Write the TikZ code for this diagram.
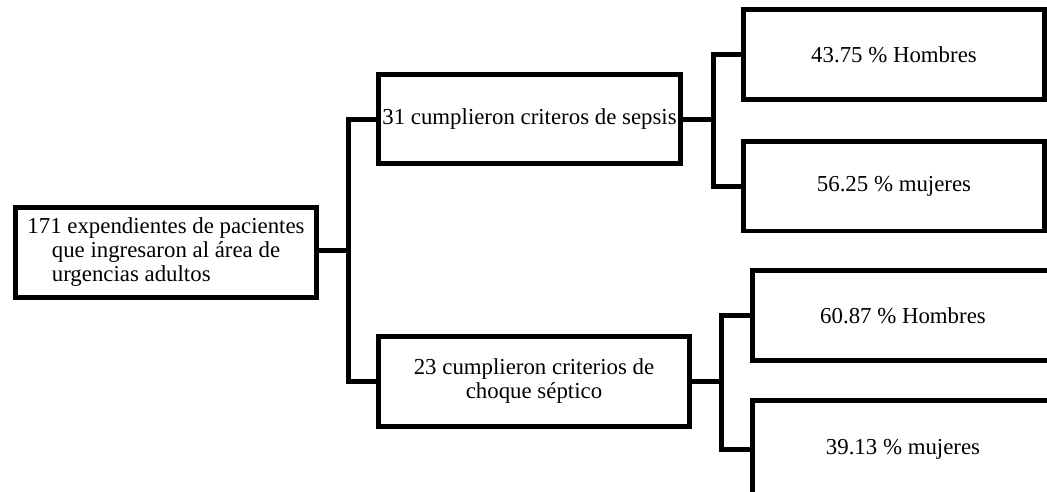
\documentclass[tikz,border=0pt]{standalone}
\usepackage{fontspec}
\setmainfont{Liberation Serif}
\usepackage{calc}
\begin{document}
\begin{tikzpicture}[x=0.02cm,y=-0.02cm,
	caja/.style={draw,line width=1mm,inner sep=0pt,minimum width=6.04cm,minimum height=1.8cm,align=center,font=\fontsize{13}{13.4}\selectfont},
	rama/.style={line width=1mm}]
	\useasboundingbox (0,0) rectangle (1047,491);
	\clip (0,0) rectangle (1047,491);
	% Cajas
	\node [caja] (total) at (166,252) {171 expendientes de pacientes\\que ingresaron al área de\\\makebox[\widthof{que ingresaron al área de}][l]{urgencias adultos}};
	\node [caja] (sepsis) at (529.5,119) {31 cumplieron criteros de sepsis};
	\node [caja,minimum width=6.22cm] (choque) at (534,381) {23 cumplieron criterios de\\choque séptico};
	\node [caja] (hom1) at (894,54.5) {43.75 \% Hombres};
	\node [caja] (muj1) at (894,186) {56.25 \% mujeres};
	\node [caja] (hom2) at (903,315.5) {60.87 \% Hombres};
	\node [caja,minimum height=1.94cm] (muj2) at (903,449) {39.13 \% mujeres};
	% Ramas
	\coordinate (r1) at (348.5,250);
	\coordinate (r2) at (713.5,119);
	\coordinate (r3) at (721,381);
	\draw [rama] (total.east |- r1) -- (r1);
	\draw [rama] (sepsis.west) -| (r1) |- (choque.west);
	\draw [rama] (sepsis.east) -- (r2);
	\draw [rama] (hom1.west) -| (r2) |- (muj1.west);
	\draw [rama] (choque.east) -- (r3);
	\draw [rama] (hom2.west) -| (r3) |- (muj2.west);
\end{tikzpicture}
\end{document}
